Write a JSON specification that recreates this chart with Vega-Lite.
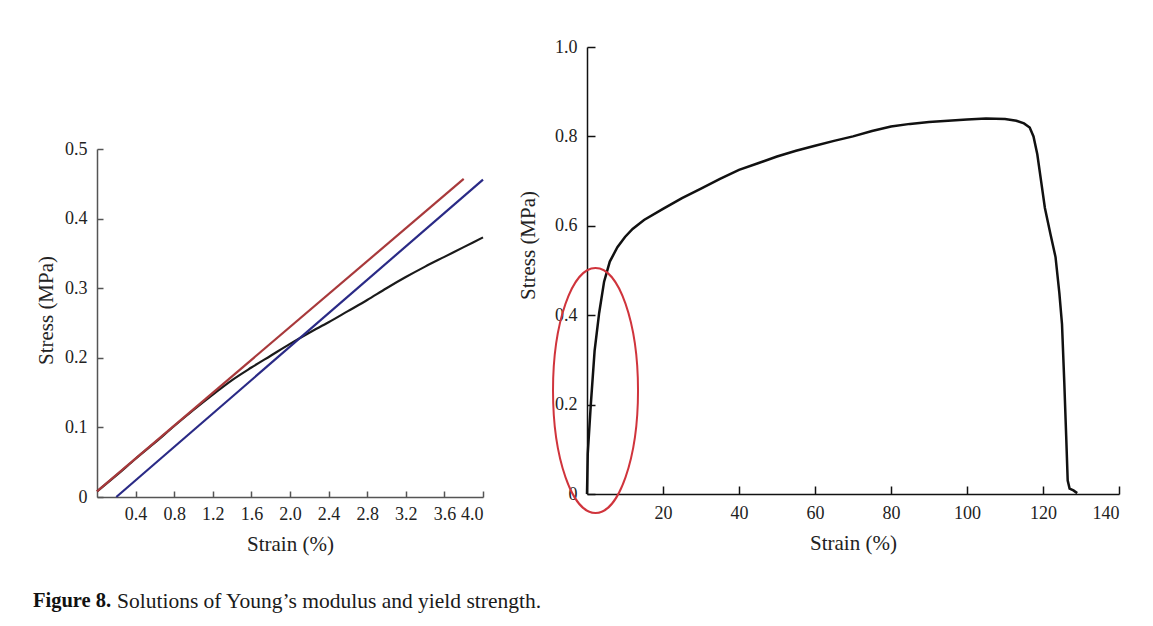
{
  "$schema": "https://vega.github.io/schema/vega-lite/v6.json",
  "background": "white",
  "padding": {"left": 33, "top": 38, "right": 5, "bottom": 5},
  "bounds": "flush",
  "spacing": 104,
  "title": {
    "text": "Solutions of Young’s modulus and yield strength.",
    "orient": "bottom", "anchor": "start", "frame": "bounds",
    "dx": 84, "offset": -21,
    "font": "Liberation Serif", "fontSize": 21.5, "fontWeight": "normal", "color": "#1a1a1a"
  },
  "config": {
    "view": {"stroke": null},
    "axis": {
      "grid": false,
      "labelFont": "Liberation Serif", "labelFontSize": 18, "labelColor": "#222",
      "titleFont": "Liberation Serif", "titleFontSize": 21, "titleFontWeight": "normal", "titleColor": "#222",
      "domainWidth": 1.5, "tickWidth": 1.5, "tickSize": -6
    }
  },
  "hconcat": [
    {
      "width": 386,
      "height": 450,
      "title": {
        "text": "Figure 8.", "orient": "bottom", "anchor": "start", "frame": "group",
        "dx": -64, "offset": 37,
        "font": "Liberation Serif", "fontSize": 20.5, "fontWeight": "bold", "color": "#111"
      },
      "data": {"values": [
        {"series": "Measured", "x": 0, "y": 0.008},
        {"series": "Measured", "x": 0.2, "y": 0.031},
        {"series": "Measured", "x": 0.4, "y": 0.055},
        {"series": "Measured", "x": 0.6, "y": 0.078},
        {"series": "Measured", "x": 0.8, "y": 0.102},
        {"series": "Measured", "x": 1.0, "y": 0.125},
        {"series": "Measured", "x": 1.2, "y": 0.147},
        {"series": "Measured", "x": 1.4, "y": 0.168},
        {"series": "Measured", "x": 1.6, "y": 0.186},
        {"series": "Measured", "x": 1.8, "y": 0.203},
        {"series": "Measured", "x": 2.0, "y": 0.22},
        {"series": "Measured", "x": 2.2, "y": 0.236},
        {"series": "Measured", "x": 2.4, "y": 0.251},
        {"series": "Measured", "x": 2.6, "y": 0.267},
        {"series": "Measured", "x": 2.8, "y": 0.283},
        {"series": "Measured", "x": 3.0, "y": 0.3},
        {"series": "Measured", "x": 3.2, "y": 0.316},
        {"series": "Measured", "x": 3.4, "y": 0.331},
        {"series": "Measured", "x": 3.6, "y": 0.345},
        {"series": "Measured", "x": 3.8, "y": 0.359},
        {"series": "Measured", "x": 4.0, "y": 0.373},
        {"series": "Tangent", "x": 0, "y": 0.008},
        {"series": "Tangent", "x": 3.8, "y": 0.457},
        {"series": "Offset", "x": 0.2, "y": 0},
        {"series": "Offset", "x": 4.0, "y": 0.456}
      ]},
      "mark": {"type": "line", "strokeWidth": 2.2, "interpolate": "monotone"},
      "encoding": {
        "x": {"field": "x", "type": "quantitative", "title": "Strain (%)",
              "scale": {"domain": [0, 4], "nice": false, "zero": false},
              "axis": {"values": [0.4, 0.8, 1.2, 1.6, 2.0, 2.4, 2.8, 3.2, 3.6, 4.0], "format": ".1f",
                       "domainColor": "#555", "tickColor": "#555", "labelPadding": 14, "titlePadding": 10}},
        "y": {"field": "y", "type": "quantitative", "title": "Stress (MPa)",
              "scale": {"domain": [0, 0.5], "range": [450, 102], "nice": false, "zero": false},
              "axis": {"values": [0, 0.1, 0.2, 0.3, 0.4, 0.5],
                       "labelExpr": "datum.value == 0 ? '0' : format(datum.value, '.1f')",
                       "domainColor": "#555", "tickColor": "#555", "labelPadding": 16,
                       "titlePadding": 8, "titleY": 263}},
        "color": {"field": "series", "type": "nominal", "legend": null,
                  "scale": {"domain": ["Measured", "Tangent", "Offset"], "range": ["#1a1a1a", "#a8393b", "#2a2a86"]}},
        "order": {"field": "x", "type": "quantitative"}
      }
    },
    {
      "width": 532,
      "height": 447,
      "layer": [
        {
          "data": {"values": [
            {"x": 0, "y": 0}, {"x": 0.2, "y": 0.09}, {"x": 1.0, "y": 0.2}, {"x": 2.0, "y": 0.32},
            {"x": 3.2, "y": 0.405}, {"x": 4.5, "y": 0.475}, {"x": 6, "y": 0.52}, {"x": 8, "y": 0.552},
            {"x": 10, "y": 0.575}, {"x": 12, "y": 0.593}, {"x": 15, "y": 0.613}, {"x": 20, "y": 0.638},
            {"x": 25, "y": 0.662}, {"x": 30, "y": 0.683}, {"x": 35, "y": 0.705}, {"x": 40, "y": 0.725},
            {"x": 45, "y": 0.74}, {"x": 50, "y": 0.755}, {"x": 55, "y": 0.768}, {"x": 60, "y": 0.779},
            {"x": 65, "y": 0.79}, {"x": 70, "y": 0.8}, {"x": 75, "y": 0.812}, {"x": 80, "y": 0.822},
            {"x": 85, "y": 0.828}, {"x": 90, "y": 0.832}, {"x": 95, "y": 0.835}, {"x": 100, "y": 0.838},
            {"x": 105, "y": 0.84}, {"x": 110, "y": 0.839}, {"x": 113, "y": 0.835}, {"x": 115, "y": 0.829},
            {"x": 116.5, "y": 0.82}, {"x": 117.5, "y": 0.8}, {"x": 118.5, "y": 0.76}, {"x": 119.5, "y": 0.7},
            {"x": 120.5, "y": 0.64}, {"x": 122, "y": 0.58}, {"x": 123.3, "y": 0.53}, {"x": 124.3, "y": 0.45},
            {"x": 125, "y": 0.38}, {"x": 125.6, "y": 0.25}, {"x": 126.1, "y": 0.13}, {"x": 126.5, "y": 0.03},
            {"x": 127, "y": 0.012}, {"x": 128, "y": 0.008}, {"x": 129, "y": 0.002}
          ]},
          "mark": {"type": "line", "color": "#111", "strokeWidth": 2.5},
          "encoding": {
            "x": {"field": "x", "type": "quantitative", "title": "Strain (%)",
                  "scale": {"domain": [0, 140], "nice": false, "zero": false},
                  "axis": {"values": [20, 40, 60, 80, 100, 120, 140], "format": "d",
                           "domainColor": "#111", "tickColor": "#111", "tickSize": -8,
                           "labelPadding": 18, "titlePadding": 10}},
            "y": {"field": "y", "type": "quantitative", "title": "Stress (MPa)",
                  "scale": {"domain": [0, 1], "nice": false, "zero": false},
                  "axis": {"values": [0, 0.2, 0.4, 0.6, 0.8, 1.0],
                           "labelExpr": "datum.value == 0 ? '0' : format(datum.value, '.1f')",
                           "domainColor": "#111", "tickColor": "#111", "tickSize": -8,
                           "labelPadding": 18, "titlePadding": 16, "titleY": 198}},
            "order": {"field": "x", "type": "quantitative"}
          }
        },
        {
          "data": {"values": [{"x": 2.24, "y": 0.2315, "note": "linear region"}]},
          "mark": {
            "type": "point", "filled": false, "stroke": "#d0343c", "strokeWidth": 2, "opacity": 1,
            "size": 60025,
            "shape": "M 0 -1 C 0.1916 -1 0.347 -0.5523 0.347 0 C 0.347 0.5523 0.1916 1 0 1 C -0.1916 1 -0.347 0.5523 -0.347 0 C -0.347 -0.5523 -0.1916 -1 0 -1 Z"
          },
          "encoding": {
            "x": {"field": "x", "type": "quantitative"},
            "y": {"field": "y", "type": "quantitative"}
          }
        }
      ]
    }
  ]
}
